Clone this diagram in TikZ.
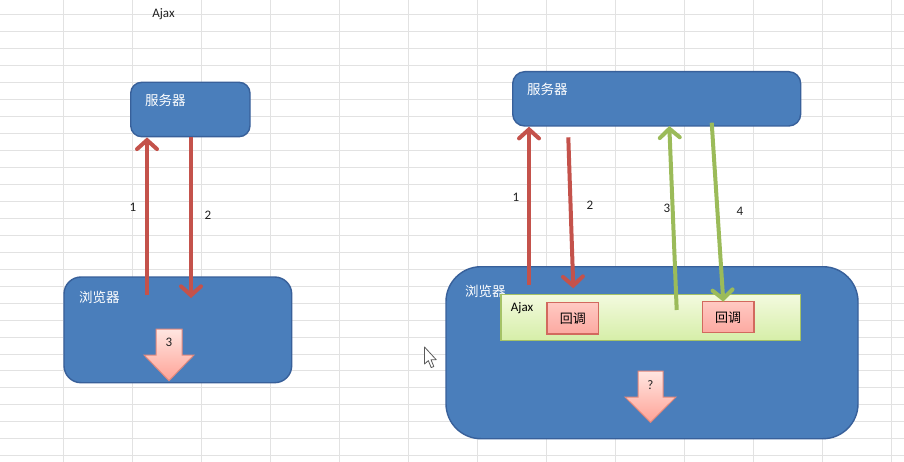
\documentclass[tikz,border=0pt]{standalone}
\usepackage{fontspec}
\setmainfont{Carlito}
\newfontfamily\cjk{Noto Sans CJK SC}
\usetikzlibrary{arrows.meta}
\definecolor{gridc}{HTML}{E2E2E2}
\definecolor{boxblue}{HTML}{4A7EBB}
\definecolor{boxedge}{HTML}{38609A}
\definecolor{redarr}{HTML}{C4524B}
\definecolor{greenarr}{HTML}{9BBB59}
\definecolor{ajaxtop}{HTML}{F3FADF}
\definecolor{ajaxbot}{HTML}{D6EEA8}
\definecolor{ajaxedge}{HTML}{A5C266}
\definecolor{cbtop}{HTML}{FFC9C2}
\definecolor{cbbot}{HTML}{FCA9A1}
\definecolor{cbedge}{HTML}{D2695E}
\definecolor{batop}{HTML}{FFE6E1}
\definecolor{babot}{HTML}{FFA397}
\definecolor{baedge}{HTML}{E1887C}
\definecolor{txt}{HTML}{202020}
\tikzset{
  bluebox/.style={draw=boxedge, line width=1.4pt, fill=boxblue, inner sep=0pt},
  ajaxbox/.style={draw=ajaxedge, line width=1.2pt, top color=ajaxtop, bottom color=ajaxbot, inner sep=0pt},
  cbbox/.style={draw=cbedge, line width=1.1pt, top color=cbtop, bottom color=cbbot, inner sep=0pt, font=\cjk\fontsize{13}{15}\selectfont, text=black},
  whitecjk/.style={inner sep=0pt, text=white, font=\cjk\fontsize{13.5}{15}\selectfont, anchor=west},
  numlabel/.style={inner sep=0pt, text=txt, font=\fontsize{13}{15}\selectfont},
  redline/.style={draw=redarr, line width=4pt, -{Straight Barb[length=9pt,width=20pt,line cap=round]}},
  greenline/.style={draw=greenarr, line width=4pt, -{Straight Barb[length=9pt,width=20pt,line cap=round]}},
  blockarrow/.style={draw=baedge, line width=1pt, top color=batop, bottom color=babot, line join=miter},
}
\begin{document}
\begin{tikzpicture}[x=1pt,y=-1pt]
\useasboundingbox (0,0) rectangle (904,462);
\fill[white] (0,0) rectangle (904,462);
% grid
\foreach \k in {0,...,12} {\draw[gridc, line width=1pt] (63+69*\k,0) -- (63+69*\k,462);}
\foreach \k in {0,...,26} {\draw[gridc, line width=1pt] (0,15+16.95*\k) -- (904,15+16.95*\k);}

% title
\node[numlabel] (title) at (163.5,14) {Ajax};

% ---------- left diagram ----------
\node[bluebox, rounded corners=11pt, minimum width=119.3pt, minimum height=54.4pt] (srvL) at (190.35,109.5) {};
\node[whitecjk] (srvLt) at (145,100) {服务器};
\node[bluebox, rounded corners=17pt, minimum width=227.7pt, minimum height=105.7pt] (brL) at (177.85,329.85) {};
\node[whitecjk] (brLt) at (79,297) {浏览器};

\coordinate (l1s) at (147,295);
\coordinate (l2e) at (191,298);
\draw[redline] (l1s) -- (l1s |- srvL.south);
\draw[redline] (l2e |- srvL.south) -- (l2e);
\node[numlabel] (l1) at (133,207) {1};
\node[numlabel] (l2) at (208,215) {2};

\shade[blockarrow] (156,329) -- (182,329) -- (182,355) -- (194,355) -- (169,380.7) -- (144,355) -- (156,355) -- cycle;
\node[numlabel] (b3) at (169,342) {3};

% cursor
\draw[fill=white, draw=black!65, line width=0.8pt, line join=round] (424.5,347) -- (424.5,364) -- (428.3,360.6) -- (431.2,367.6) -- (433.8,366.5) -- (431,359.7) -- (436.2,359.7) -- cycle;

% ---------- right diagram ----------
\node[bluebox, rounded corners=12pt, minimum width=288pt, minimum height=54.3pt] (srvR) at (656.7,98.85) {};
\node[whitecjk] (srvRt) at (527,89) {服务器};
\node[bluebox, rounded corners=35pt, minimum width=412pt, minimum height=172pt] (brR) at (652,352.7) {};
\node[whitecjk] (brRt) at (465,291) {浏览器};

\node[ajaxbox, minimum width=299.7pt, minimum height=46pt] (ajax) at (650.85,317.3) {};
\node[numlabel, anchor=west, text=black] (ajaxt) at (510.7,308) {Ajax};
\node[cbbox, minimum width=51.7pt, minimum height=31.3pt] (cb1) at (572.85,318.35) {回调};
\node[cbbox, minimum width=51.7pt, minimum height=31pt] (cb2) at (728.15,317.2) {回调};

\coordinate (r1s) at (529,285);
\coordinate (r2s) at (568.3,137.3);
\coordinate (r2e) at (573.3,288.3);
\coordinate (g3s) at (676.7,310);
\coordinate (g3e) at (669.3,126);
\coordinate (g4s) at (711.7,122.7);
\coordinate (g4e) at (723.3,301.7);
\draw[redline] (r1s) -- (r1s |- srvR.south);
\draw[redline] (r2s) -- (r2e);
\draw[greenline] (g3s) -- (g3e);
\draw[greenline] (g4s) -- (g4e);
\node[numlabel] (rl1) at (516,197) {1};
\node[numlabel] (rl2) at (590,205) {2};
\node[numlabel] (rl3) at (667,208) {3};
\node[numlabel] (rl4) at (740,211) {4};

\shade[blockarrow] (638,371) -- (663,371) -- (663,397) -- (676,397) -- (650.5,422.3) -- (625,397) -- (638,397) -- cycle;
\node[numlabel] (bq) at (650.5,385) {?};
\end{tikzpicture}
\end{document}
